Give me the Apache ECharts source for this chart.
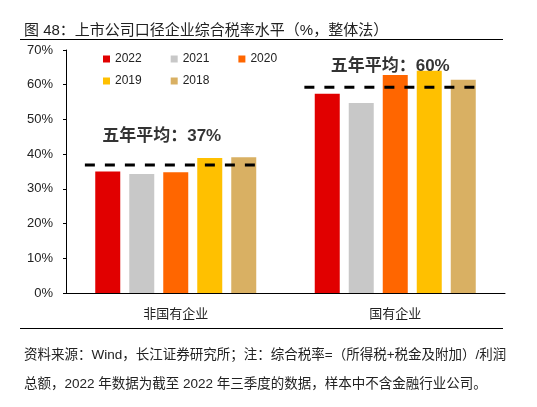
<!DOCTYPE html>
<html lang="zh">

<head>
    <meta charset="UTF-8">
    <title>上市公司口径企业综合税率水平</title>
    <script src="https://cdn.jsdelivr.net/npm/echarts@6/dist/echarts.min.js"></script>
    <style>
        html, body {
            margin: 0;
            padding: 0;
            background-color: #fff;
        }

        #chart {
            width: 537px;
            height: 407px;
        }
    </style>
</head>

<body>
    <div id="chart"></div>
    <script>
        // 数据
        const categories = ['非国有企业', '国有企业'];
        const years = ['2022', '2021', '2020', '2019', '2018'];
        const rate2022 = [35.0, 57.4];
        const rate2021 = [34.3, 54.7];
        const rate2020 = [34.8, 62.8];
        const rate2019 = [38.9, 64.0];
        const rate2018 = [39.1, 61.4];
        const avgLine = [36.9, 59.3];   // 虚线位置
        const avgLabel = [37, 60];      // 五年平均
        const yTicks = [0, 10, 20, 30, 40, 50, 60, 70];

        const colors = ['#E10000', '#C8C8C8', '#FF6600', '#FFC000', '#D9B063'];
        const rates = [rate2022, rate2021, rate2020, rate2019, rate2018];
        const FONT = "'Liberation Sans', 'Noto Sans CJK SC', sans-serif";

        const barSeries = years.map((y, i) => ({
            name: y,
            type: 'bar',
            data: rates[i],
            barWidth: 25,
            barGap: '36%',
            itemStyle: { color: colors[i] },
            silent: true
        }));

        // 虚线：第二个数值型x轴 (0~2)，每个类目占1
        const lineSeries = categories.map((c, i) => ({
            type: 'line',
            xAxisIndex: 1,
            data: [[i + 0.086, avgLine[i]], [i + 0.87, avgLine[i]]],
            symbol: 'none',
            lineStyle: { color: '#000', width: 3, type: [10, 10] },
            silent: true,
            z: 5
        }));

        const labelSeries = {
            type: 'scatter',
            xAxisIndex: 1,
            symbolSize: 0.1,
            itemStyle: { color: 'transparent' },
            data: [
                [0.436, 45.2, avgLabel[0]],
                [1.477, 65.4, avgLabel[1]]
            ],
            label: {
                show: true,
                position: 'inside',
                formatter: p => '五年平均：' + p.value[2] + '%',
                fontFamily: FONT,
                fontSize: 17,
                fontWeight: 'bold',
                color: '#000'
            },
            silent: true,
            z: 6
        };

        const chart = echarts.init(document.getElementById('chart'));
        chart.setOption({
            animation: false,
            textStyle: { fontFamily: FONT },
            title: [{
                text: '图 48：上市公司口径企业综合税率水平（%，整体法）',
                left: 19,
                top: 18,
                textStyle: { fontSize: 15, fontWeight: 'normal', color: '#222', fontFamily: FONT }
            }, {
                text: '资料来源：Wind，长江证券研究所；注：综合税率=（所得税+税金及附加）/利润',
                left: 19,
                top: 344,
                textStyle: { fontSize: 13.5, fontWeight: 'normal', color: '#222', fontFamily: FONT }
            }, {
                text: '总额，2022 年数据为截至 2022 年三季度的数据，样本中不含金融行业公司。',
                left: 19,
                top: 373,
                textStyle: { fontSize: 13.5, fontWeight: 'normal', color: '#222', fontFamily: FONT }
            }],
            graphic: [
                { type: 'line', shape: { x1: 20, y1: 39.5, x2: 503, y2: 39.5 }, style: { stroke: '#000', lineWidth: 1 } },
                { type: 'line', shape: { x1: 20, y1: 328.5, x2: 503, y2: 328.5 }, style: { stroke: '#000', lineWidth: 1 } }
            ],
            legend: [{
                data: years.slice(0, 3),
                left: 98,
                top: 48,
                icon: 'rect',
                itemWidth: 7,
                itemHeight: 7,
                itemGap: 29,
                textStyle: { fontSize: 12, color: '#222', fontFamily: FONT }
            }, {
                data: years.slice(3),
                left: 98,
                top: 70,
                icon: 'rect',
                itemWidth: 7,
                itemHeight: 7,
                itemGap: 29,
                textStyle: { fontSize: 12, color: '#222', fontFamily: FONT }
            }],
            grid: { left: 66, right: 32, top: 50, bottom: 114 },
            xAxis: [{
                type: 'category',
                data: categories,
                axisLine: { lineStyle: { color: '#000', width: 1 } },
                axisTick: { inside: true, length: 3, lineStyle: { color: '#000' } },
                axisLabel: { fontSize: 13, color: '#222', margin: 15 }
            }, {
                type: 'value',
                min: 0,
                max: 2,
                show: false
            }],
            yAxis: {
                type: 'value',
                min: yTicks[0],
                max: yTicks[yTicks.length - 1],
                interval: 10,
                axisLine: { show: true, lineStyle: { color: '#000', width: 1 } },
                axisTick: { show: true, length: 3, lineStyle: { color: '#000' } },
                splitLine: { show: false },
                axisLabel: { fontSize: 13, color: '#222', margin: 13, formatter: '{value}%' }
            },
            series: barSeries.concat(lineSeries, [labelSeries])
        });
    </script>
</body>

</html>
